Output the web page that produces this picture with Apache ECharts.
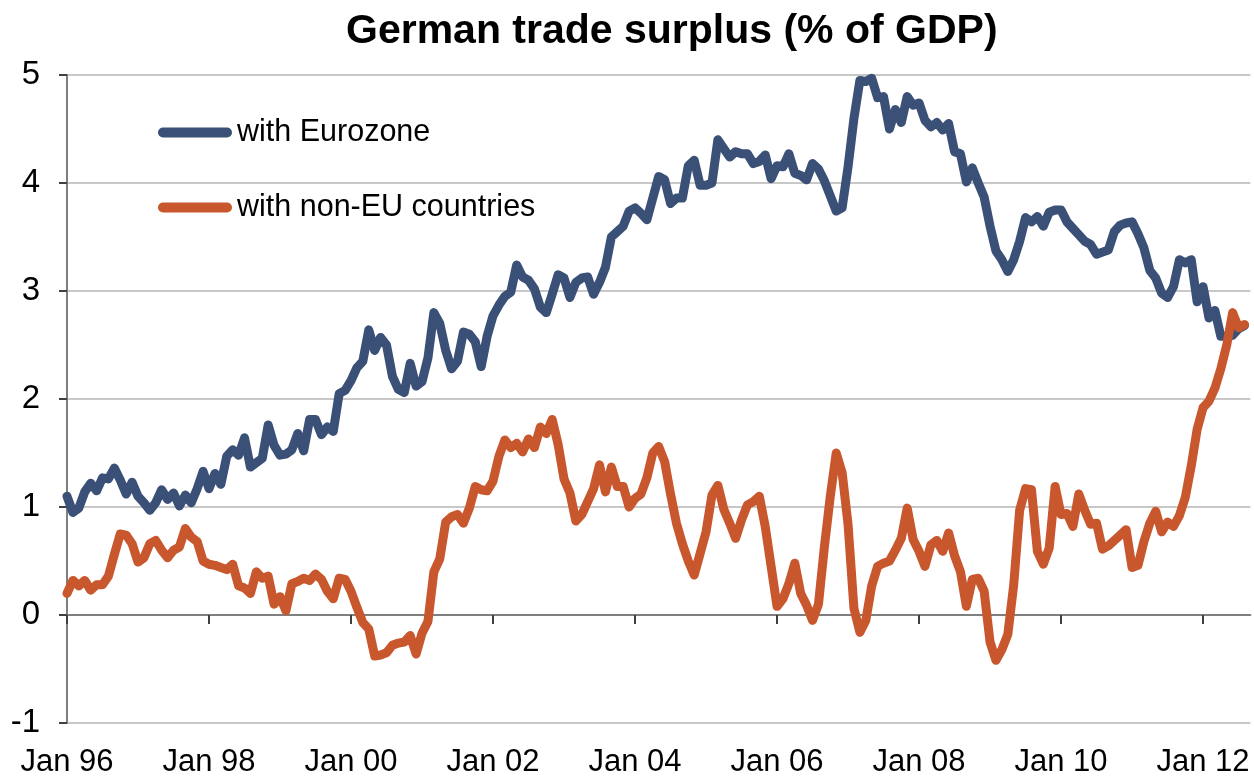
<!DOCTYPE html>
<html>
<head>
<meta charset="utf-8">
<script src="https://cdn.jsdelivr.net/npm/echarts@6/dist/echarts.min.js"></script>
<style>
html,body{margin:0;padding:0;background:#fff;}
#c{width:1254px;height:779px;}
</style>
</head>
<body>
<div id="c"></div>
<script>
// Monthly data, Jan 1996 .. Aug 2012 (% of GDP)
const eurozone = [
1.10,0.95,0.99,1.14,1.22,1.15,1.27,1.26,1.36,1.25,1.12,1.23,
1.10,1.04,0.97,1.04,1.16,1.07,1.13,1.01,1.11,1.04,1.17,1.33,
1.17,1.31,1.21,1.47,1.53,1.48,1.64,1.37,1.41,1.45,1.76,1.57,
1.48,1.49,1.53,1.68,1.52,1.81,1.81,1.67,1.74,1.70,2.05,2.08,
2.17,2.29,2.35,2.64,2.45,2.57,2.50,2.21,2.09,2.06,2.33,2.12,
2.16,2.38,2.80,2.70,2.45,2.28,2.35,2.62,2.60,2.53,2.30,2.58,
2.77,2.87,2.95,2.99,3.24,3.13,3.10,3.02,2.85,2.80,2.97,3.15,
3.12,2.94,3.08,3.12,3.13,2.97,3.08,3.22,3.50,3.55,3.60,3.74,
3.77,3.72,3.66,3.86,4.06,4.03,3.81,3.86,3.86,4.16,4.21,3.98,
3.98,4.00,4.40,4.32,4.24,4.29,4.27,4.27,4.18,4.20,4.26,4.04,
4.16,4.15,4.27,4.09,4.07,4.03,4.18,4.13,4.02,3.88,3.74,3.77,
4.15,4.60,4.95,4.94,4.97,4.79,4.80,4.50,4.68,4.56,4.80,4.72,
4.74,4.58,4.52,4.56,4.49,4.55,4.29,4.27,4.01,4.14,4.00,3.87,
3.60,3.37,3.29,3.18,3.29,3.46,3.68,3.64,3.69,3.60,3.73,3.75,
3.75,3.64,3.58,3.52,3.46,3.43,3.34,3.36,3.38,3.55,3.61,3.63,
3.64,3.53,3.40,3.19,3.12,2.98,2.94,3.04,3.29,3.26,3.29,2.90,
3.04,2.75,2.82,2.58,2.58,2.59,2.65,2.68
];
const nonEU = [
0.20,0.32,0.27,0.32,0.23,0.28,0.28,0.36,0.56,0.75,0.74,0.66,
0.49,0.53,0.66,0.69,0.60,0.53,0.60,0.63,0.80,0.72,0.68,0.50,
0.47,0.46,0.44,0.42,0.47,0.27,0.25,0.20,0.40,0.34,0.36,0.10,
0.17,0.04,0.29,0.31,0.34,0.32,0.38,0.33,0.22,0.15,0.34,0.33,
0.22,0.07,-0.07,-0.13,-0.38,-0.37,-0.35,-0.28,-0.26,-0.25,-0.19,-0.36,
-0.17,-0.06,0.40,0.52,0.86,0.91,0.93,0.85,0.99,1.19,1.16,1.15,
1.24,1.47,1.62,1.55,1.59,1.51,1.63,1.55,1.74,1.68,1.81,1.58,
1.26,1.13,0.87,0.93,1.05,1.17,1.39,1.14,1.37,1.19,1.19,1.00,
1.08,1.12,1.27,1.50,1.56,1.42,1.12,0.85,0.66,0.50,0.37,0.57,
0.77,1.11,1.20,0.98,0.85,0.71,0.88,1.02,1.05,1.10,0.82,0.45,
0.08,0.15,0.29,0.48,0.20,0.09,-0.05,0.10,0.63,1.10,1.50,1.32,
0.84,0.06,-0.16,-0.05,0.27,0.45,0.48,0.50,0.60,0.71,0.99,0.70,
0.59,0.45,0.65,0.69,0.59,0.76,0.55,0.40,0.08,0.33,0.34,0.22,
-0.25,-0.42,-0.32,-0.18,0.28,0.97,1.17,1.16,0.59,0.47,0.62,1.19,
0.93,0.94,0.82,1.12,0.97,0.84,0.85,0.61,0.64,0.69,0.74,0.79,
0.44,0.46,0.68,0.85,0.96,0.77,0.86,0.82,0.92,1.09,1.38,1.72,
1.92,1.98,2.10,2.28,2.50,2.80,2.66,2.69
];
const seriesNames = ['with Eurozone', 'with non-EU countries'];
const monthNames = ['Jan','Feb','Mar','Apr','May','Jun','Jul','Aug','Sep','Oct','Nov','Dec'];
const startYear = 1996;
const nCategories = 201; // Jan 96 .. Sep 12 (one spare slot at right edge)
const categories = [];
for (let i = 0; i < nCategories; i++) {
  const y = (startYear + Math.floor(i / 12)) % 100;
  categories.push(monthNames[i % 12] + ' ' + String(y).padStart(2, '0'));
}
const tickEvery = 24; // labels every Jan of even years
const yTicks = {min: -1, max: 5, interval: 1};

const FONT = "'Liberation Sans',Arial,sans-serif";
const legendIcon = 'path://M5,0H69A5,5,0,0,1,69,10H5A5,5,0,0,1,5,0Z';
const showTick = (i) => i % tickEvery === 0;

const chart = echarts.init(document.getElementById('c'), null, {renderer: 'canvas'});
chart.setOption({
  animation: false,
  backgroundColor: '#ffffff',
  title: {
    text: 'German trade surplus (% of GDP)',
    left: 341, top: 6,
    textStyle: {fontFamily: FONT, fontWeight: 'bold', fontSize: 41, color: '#000'}
  },
  legend: {
    orient: 'vertical',
    left: 153, top: 112,
    itemWidth: 74, itemHeight: 10,
    itemGap: 44,
    icon: legendIcon,
    textStyle: {fontFamily: FONT, fontSize: 30.5, color: '#000', lineHeight: 30},
    data: seriesNames
  },
  grid: {left: 67, right: 3.6, top: 75, bottom: 56, containLabel: false, outerBoundsMode: 'none'},
  xAxis: [
    {
      type: 'category',
      data: categories,
      boundaryGap: false,
      position: 'bottom',
      axisLine: {onZero: true, lineStyle: {color: '#7f7f7f', width: 2}},
      axisTick: {show: true, length: 9, interval: showTick, lineStyle: {color: '#404040', width: 2}},
      axisLabel: {show: false},
      splitLine: {show: false}
    },
    {
      type: 'category',
      data: categories,
      boundaryGap: false,
      position: 'bottom',
      axisLine: {show: false, onZero: false},
      axisTick: {show: false},
      axisLabel: {show: true, interval: showTick, margin: 24, fontFamily: FONT, fontSize: 31, color: '#000'},
      splitLine: {show: false}
    }
  ],
  yAxis: {
    type: 'value',
    min: yTicks.min, max: yTicks.max, interval: yTicks.interval,
    axisLine: {show: true, lineStyle: {color: '#7f7f7f', width: 2}},
    axisTick: {show: true, length: 8, lineStyle: {color: '#404040', width: 2}},
    axisLabel: {margin: 27, fontFamily: FONT, fontSize: 33, color: '#000'},
    splitLine: {show: true, lineStyle: {color: '#c8c8c8', width: 2}}
  },
  series: [
    {name: seriesNames[0], type: 'line', data: eurozone, xAxisIndex: 0, showSymbol: false, symbol: 'none',
     color: '#3a5077', lineStyle: {width: 9, color: '#3a5077', cap: 'round', join: 'round'}},
    {name: seriesNames[1], type: 'line', data: nonEU, xAxisIndex: 0, showSymbol: false, symbol: 'none',
     color: '#c9572d', lineStyle: {width: 9, color: '#c9572d', cap: 'round', join: 'round'}}
  ]
});
</script>
</body>
</html>
